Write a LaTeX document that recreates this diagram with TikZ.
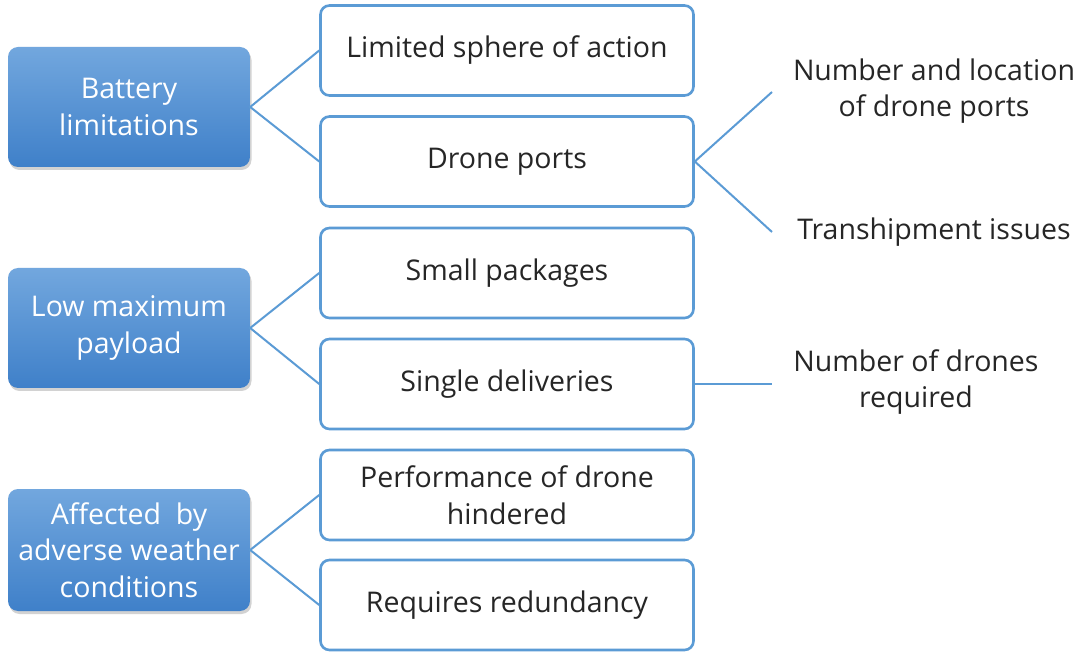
\documentclass[tikz,border=0pt]{standalone}
\usepackage{fontspec}
\setmainfont{Open Sans}
\usetikzlibrary{shadows}
\definecolor{linec}{HTML}{5B9BD5}
\definecolor{topb}{HTML}{72A7DE}
\definecolor{botb}{HTML}{3F80C9}
\definecolor{txt}{HTML}{262626}
\begin{document}
\begin{tikzpicture}[x=1pt,y=-1pt,
  bluebox/.style={rounded corners=10pt, minimum width=242pt, minimum height=120pt,
    top color=topb, bottom color=botb, draw=none, text=white, align=center,
    font=\fontsize{28.5}{36.5}\selectfont, inner sep=0pt,
    drop shadow={shadow xshift=1.5pt, shadow yshift=-3pt, opacity=0.35}},
  whitebox/.style={rounded corners=9pt, minimum width=373pt, minimum height=90pt,
    draw=linec, line width=2.6pt, fill=white, text=txt, align=center,
    font=\fontsize{28.5}{36.5}\selectfont, inner sep=0pt},
  plain/.style={text=txt, align=center, font=\fontsize{28.5}{36.5}\selectfont, inner sep=0pt},
  conn/.style={draw=linec, line width=2pt}]
\useasboundingbox (0,0) rectangle (1080,652);
\fill[white] (0,0) rectangle (1080,652);

\node[bluebox] (bat) at (129,107) {Battery\\limitations};
\node[bluebox] (pay) at (129,328) {Low maximum\\payload};
\node[bluebox, minimum height=122pt] (wea) at (129,550) {Affected\ \ by\\adverse weather\\conditions};

\node[whitebox] (lim) at (507,50.5) {Limited sphere of action};
\node[whitebox] (dp) at (507,161.5) {Drone ports};
\node[whitebox] (sp) at (507,273) {Small packages};
\node[whitebox] (sd) at (507,384) {Single deliveries};
\node[whitebox] (perf) at (507,495) {Performance of drone\\hindered};
\node[whitebox] (red) at (507,605) {Requires redundancy};

\coordinate (c1) at (772,92);
\coordinate (c2) at (772,232);
\coordinate (c3) at (772,384);

\node[plain] (t1) at (934,91) {Number and location\\of drone ports};
\node[plain] (t2) at (934,232) {Transhipment issues};
\node[plain] (t3) at (916,382) {Number of drones\\required};

\draw[conn] (lim.west) -- (bat.east) -- (dp.west);
\draw[conn] (sp.west) -- (pay.east) -- (sd.west);
\draw[conn] (perf.west) -- (wea.east) -- (red.west);
\draw[conn] (c1) -- (dp.east) -- (c2);
\draw[conn] (sd.east) -- (c3);
\end{tikzpicture}
\end{document}
